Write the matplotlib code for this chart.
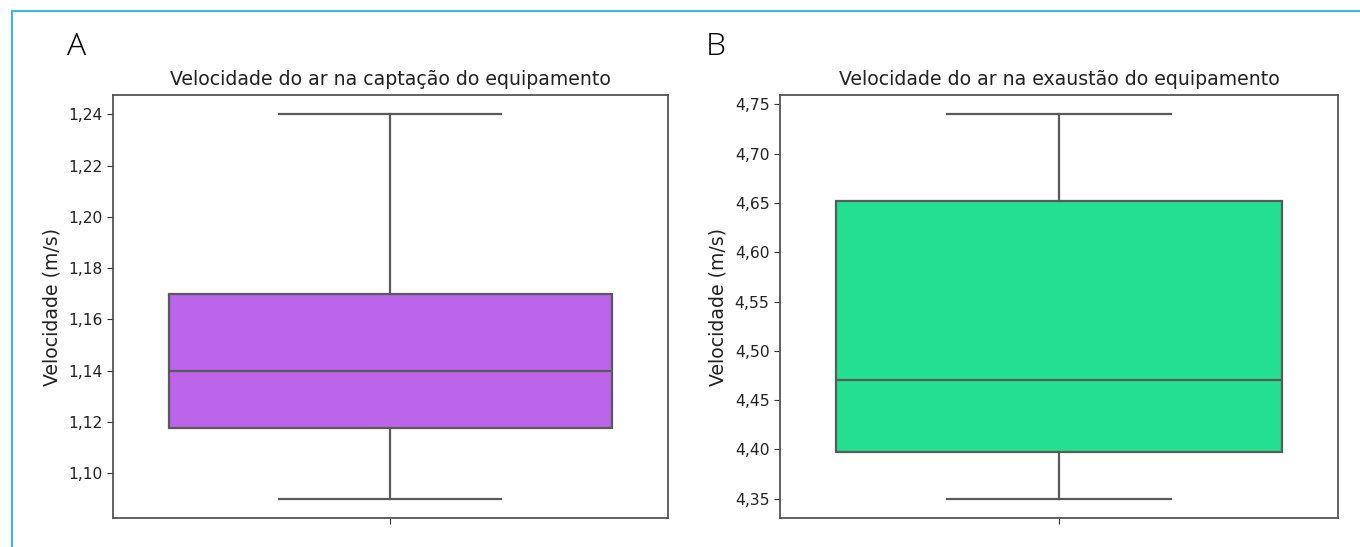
import matplotlib
matplotlib.use("Agg")
import matplotlib.pyplot as plt
from matplotlib.ticker import FuncFormatter
from matplotlib.lines import Line2D

# box statistics (m/s)
titles = ["Velocidade do ar na captação do equipamento",
          "Velocidade do ar na exaustão do equipamento"]
panel_letters = ["A", "B"]
whis_low = [1.09, 4.35]
q1 = [1.1175, 4.3975]
median = [1.14, 4.47]
q3 = [1.17, 4.652]
whis_high = [1.24, 4.74]
box_colors = ["#bc65ea", "#22e08f"]
tick_steps = [0.02, 0.05]

edge = "#5a5a5a"

fig = plt.figure(figsize=(13.6, 5.47), dpi=100)
positions = [[0.0831, 0.053, 0.408, 0.7733], [0.5735, 0.053, 0.4103, 0.7733]]

for i in range(2):
    ax = fig.add_axes(positions[i])
    stats = [{"whislo": whis_low[i], "q1": q1[i], "med": median[i],
              "q3": q3[i], "whishi": whis_high[i], "fliers": []}]
    ax.bxp(stats, positions=[0], widths=0.8, patch_artist=True,
           boxprops=dict(facecolor=box_colors[i], edgecolor=edge, linewidth=1.6),
           medianprops=dict(color=edge, linewidth=1.6),
           whiskerprops=dict(color=edge, linewidth=1.6),
           capprops=dict(color=edge, linewidth=1.6))
    ax.set_xlim(-0.5, 0.5)
    span = whis_high[i] - whis_low[i]
    ax.set_ylim(whis_low[i] - 0.05 * span, whis_high[i] + 0.05 * span)
    ax.yaxis.set_major_locator(plt.MultipleLocator(tick_steps[i]))
    ax.yaxis.set_major_formatter(FuncFormatter(lambda v, p: f"{v:.2f}".replace(".", ",")))
    ax.set_xticks([0])
    ax.set_xticklabels([""])
    ax.tick_params(labelsize=11.2, color="#333333", labelcolor="#222222", length=4)
    for s in ax.spines.values():
        s.set_color("#555555")
        s.set_linewidth(1.3)
    ax.set_ylabel("Velocidade (m/s)", fontsize=13.6, color="#222222", labelpad=5)
    ax.set_title(titles[i], fontsize=13.6, color="#222222", pad=7)

letter_x = [67, 706]
for i in range(2):
    fig.text(letter_x[i] / 1360, 1 - 55 / 547, panel_letters[i], fontsize=23,
             family="Open Sans", fontweight="light", color="#000000")

# thin blue frame on the top and left
fig.add_artist(Line2D([12 / 1360, 1], [1 - 11 / 547, 1 - 11 / 547],
                      transform=fig.transFigure, color="#3bb8e0", linewidth=1.5))
fig.add_artist(Line2D([12 / 1360, 12 / 1360], [0, 1 - 11 / 547],
                      transform=fig.transFigure, color="#3bb8e0", linewidth=1.5))

fig.savefig("out.png", dpi=100)
